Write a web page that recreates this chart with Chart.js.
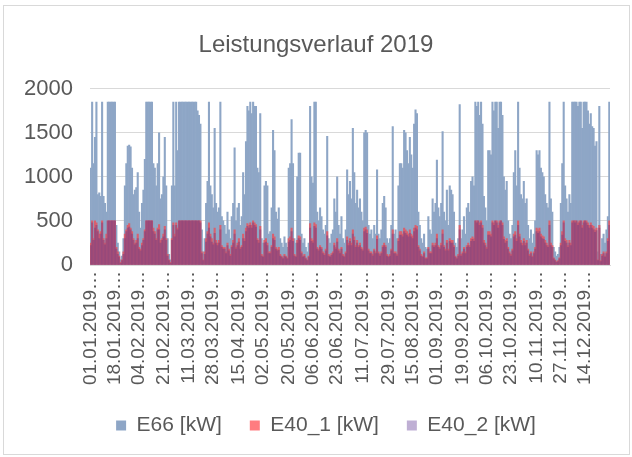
<!DOCTYPE html>
<html>
<head>
<meta charset="utf-8">
<script src="https://cdn.jsdelivr.net/npm/chart.js@4"></script>
<style>
  html, body { margin: 0; padding: 0; background: #fff; }
  #wrap { position: relative; width: 632px; height: 457px; }
  #frame { position: absolute; left: 3px; top: 5px; width: 627px; height: 450px; border: 1px solid #d9d9d9; box-sizing: border-box; }
  canvas { position: absolute; left: 0; top: 0; }
</style>
</head>
<body>
<div id="wrap"><div id="frame"></div><canvas id="chart" width="632" height="457"></canvas></div>
<script>
// Tageswerte 2019 (aus dem Bild geschätzt), kW
const e66 = [
  1100, 1850, 1150, 1450, 1850, 800, 820, 780, 1850, 780,
  700, 600, 1850, 1850, 1850, 1850, 1850, 1850, 450, 250,
  150, 60, 100, 300, 900, 1150, 1350, 1360, 1340, 1100,
  800, 850, 880, 1050, 600, 420, 700, 850, 1200, 1850,
  1850, 1850, 1850, 1850, 1150, 1100, 900, 1150, 1500, 750,
  800, 1000, 1450, 900, 300, 120, 60, 900, 1850, 900,
  1850, 1300, 1850, 1850, 1850, 1850, 1850, 1850, 1850, 1850,
  1850, 1850, 1850, 1850, 1850, 1750, 1700, 1600, 400, 150,
  300, 700, 950, 1850, 900, 800, 650, 1550, 700, 600,
  650, 1850, 550, 500, 450, 350, 600, 400, 300, 550,
  700, 1330, 500, 650, 700, 450, 550, 1050, 800, 1400,
  1800, 1750, 1850, 1720, 1850, 1800, 1800, 1100, 1050, 1720,
  300, 250, 900, 950, 900, 350, 380, 650, 1530, 1300,
  600, 520, 650, 300, 250, 200, 320, 250, 200, 1100,
  1150, 1650, 1150, 300, 250, 1000, 1270, 1270, 350, 250,
  300, 200, 150, 250, 1800, 1000, 930, 1850, 1850, 600,
  500, 650, 550, 400, 350, 450, 1460, 300, 250, 350,
  400, 750, 600, 1000, 450, 350, 550, 300, 250, 400,
  1080, 800, 950, 750, 1550, 1050, 700, 850, 650, 750,
  600, 500, 1500, 1530, 1500, 450, 350, 400, 300, 450,
  350, 1080, 350, 300, 400, 700, 780, 650, 300, 250,
  300, 450, 1570, 350, 400, 300, 900, 1150, 1150, 1100,
  1530, 1500, 1300, 1150, 1450, 1250, 1100, 1600, 1760, 1720,
  600, 450, 300, 250, 350, 200, 180, 550, 400, 350,
  750, 600, 700, 1190, 650, 550, 700, 1515, 600, 500,
  850, 450, 900, 850, 800, 600, 250, 200, 300, 1820,
  300, 400, 550, 350, 650, 700, 600, 950, 1000, 900,
  1850, 1800, 1850, 1700, 1850, 1600, 780, 650, 500, 1300,
  1300, 1250, 1850, 1750, 1850, 1850, 1550, 1850, 1850, 1700,
  1000, 850, 950, 500, 350, 300, 450, 1050, 1300, 900,
  1850, 1100, 800, 750, 950, 700, 750, 450, 300, 400,
  250, 350, 500, 1300, 1250, 1300, 1100, 1050, 1000, 800,
  700, 650, 1850, 750, 600, 200, 150, 100, 120, 200,
  700, 1150, 1850, 900, 750, 600, 800, 700, 1850, 1850,
  1850, 1850, 1800, 1850, 1850, 1550, 1850, 1850, 1850, 1750,
  1600, 1720, 1570, 1550, 1350, 1400, 150, 1800, 120, 300,
  350, 250, 400, 550, 1850
];

const e40_1 = [
  250, 500, 300, 500, 480, 400, 350, 380, 500, 300,
  250, 350, 500, 500, 500, 500, 500, 500, 200, 150,
  100, 30, 60, 150, 350, 400, 450, 470, 420, 380,
  300, 250, 280, 350, 200, 180, 250, 300, 400, 500,
  500, 500, 500, 500, 420, 380, 300, 420, 460, 280,
  300, 350, 440, 300, 120, 60, 30, 300, 480, 350,
  480, 420, 500, 500, 500, 500, 500, 500, 500, 500,
  500, 500, 500, 500, 500, 500, 500, 500, 150, 60,
  150, 300, 380, 480, 350, 300, 250, 420, 280, 250,
  280, 450, 220, 200, 200, 150, 250, 180, 120, 220,
  280, 400, 200, 250, 300, 200, 220, 350, 300, 420,
  470, 450, 480, 450, 500, 480, 460, 300, 280, 440,
  120, 100, 280, 300, 250, 150, 150, 220, 350, 320,
  200, 180, 200, 120, 100, 80, 120, 100, 80, 300,
  320, 420, 300, 120, 100, 280, 330, 320, 150, 100,
  120, 80, 60, 100, 470, 300, 280, 480, 460, 200,
  180, 220, 200, 150, 130, 180, 380, 120, 100, 130,
  150, 250, 200, 300, 180, 150, 200, 120, 100, 150,
  320, 250, 300, 250, 400, 320, 220, 280, 220, 250,
  200, 180, 420, 430, 400, 180, 150, 150, 120, 180,
  150, 330, 150, 120, 150, 220, 250, 220, 120, 100,
  120, 180, 400, 150, 150, 120, 300, 380, 380, 350,
  420, 400, 380, 350, 400, 350, 330, 420, 450, 440,
  220, 180, 120, 100, 150, 80, 80, 200, 150, 150,
  250, 220, 250, 350, 220, 200, 250, 400, 220, 180,
  280, 180, 300, 280, 280, 220, 100, 80, 120, 450,
  120, 150, 200, 150, 220, 250, 220, 300, 320, 300,
  500, 500, 500, 480, 500, 450, 280, 250, 200, 380,
  380, 350, 500, 480, 500, 500, 450, 500, 500, 480,
  320, 280, 300, 200, 150, 120, 180, 350, 380, 300,
  500, 350, 280, 250, 300, 250, 280, 180, 120, 150,
  100, 150, 200, 420, 400, 420, 350, 330, 320, 280,
  250, 220, 500, 250, 220, 80, 60, 40, 50, 80,
  250, 380, 500, 300, 280, 220, 280, 250, 500, 500,
  500, 500, 480, 500, 500, 450, 500, 500, 500, 480,
  450, 480, 450, 440, 400, 420, 60, 450, 50, 120,
  150, 100, 150, 300, 500
];

const e40_2 = [
  220, 480, 280, 420, 450, 380, 300, 350, 480, 280,
  230, 300, 500, 500, 500, 500, 500, 500, 180, 120,
  90, 20, 50, 120, 300, 380, 420, 430, 400, 350,
  280, 230, 250, 300, 180, 160, 220, 280, 380, 500,
  500, 500, 500, 500, 380, 350, 280, 400, 400, 250,
  280, 320, 400, 280, 100, 50, 20, 280, 450, 320,
  450, 400, 500, 500, 500, 500, 500, 500, 500, 500,
  500, 500, 500, 500, 500, 500, 500, 480, 130, 50,
  120, 260, 350, 420, 320, 260, 230, 360, 250, 220,
  250, 400, 200, 180, 180, 130, 220, 160, 100, 200,
  250, 350, 180, 220, 260, 180, 200, 300, 270, 380,
  440, 420, 450, 420, 480, 450, 430, 280, 250, 400,
  100, 90, 250, 260, 220, 130, 130, 200, 300, 280,
  180, 160, 170, 100, 90, 70, 100, 90, 70, 260,
  280, 380, 270, 100, 90, 250, 300, 280, 130, 90,
  100, 70, 50, 90, 420, 270, 250, 440, 420, 180,
  160, 200, 180, 130, 110, 160, 330, 100, 90, 110,
  130, 220, 180, 260, 160, 130, 180, 100, 90, 130,
  280, 220, 270, 220, 350, 280, 200, 250, 200, 220,
  180, 160, 380, 400, 360, 160, 130, 130, 100, 160,
  130, 290, 130, 100, 130, 200, 220, 200, 100, 90,
  100, 160, 350, 130, 130, 100, 270, 340, 340, 320,
  380, 360, 340, 320, 360, 320, 300, 380, 420, 400,
  200, 160, 100, 90, 130, 70, 70, 180, 130, 130,
  220, 200, 220, 300, 200, 180, 220, 350, 200, 160,
  250, 160, 270, 250, 250, 200, 90, 70, 100, 400,
  100, 130, 180, 130, 200, 220, 200, 270, 290, 270,
  500, 480, 500, 450, 480, 420, 250, 220, 180, 340,
  340, 320, 480, 450, 500, 480, 420, 480, 500, 450,
  290, 250, 270, 180, 130, 100, 160, 320, 340, 270,
  450, 320, 250, 220, 270, 220, 250, 160, 100, 130,
  90, 130, 180, 380, 360, 380, 320, 300, 290, 250,
  220, 200, 450, 220, 200, 70, 50, 30, 40, 70,
  220, 340, 480, 270, 250, 200, 250, 220, 480, 500,
  480, 500, 450, 480, 500, 420, 480, 500, 480, 450,
  420, 450, 420, 400, 370, 390, 50, 420, 40, 100,
  130, 90, 130, 270, 450
];

// beschriftete Tage auf der x-Achse
const tickDates = [
  "01.01.2019", "18.01.2019", "04.02.2019", "21.02.2019", "11.03.2019",
  "28.03.2019", "15.04.2019", "02.05.2019", "20.05.2019", "06.06.2019",
  "23.06.2019", "11.07.2019", "29.07.2019", "15.08.2019", "01.09.2019",
  "19.09.2019", "06.10.2019", "23.10.2019", "10.11.2019", "27.11.2019",
  "14.12.2019"
];

const seriesNames = ["E66 [kW]", "E40_1 [kW]", "E40_2 [kW]"];
const barColors = ["#8ea6c6", "#d9606e", "rgba(110,60,130,0.45)"];
const legendColors = ["#8ea6c6", "#ff7c80", "#bfafd4"];

if (e66.length !== 365 || e40_1.length !== 365 || e40_2.length !== 365) {
  throw new Error(`length mismatch ${e66.length} ${e40_1.length} ${e40_2.length}`);
}

const pad = n => String(n).padStart(2, "0");
const days = [];
for (let d = new Date(Date.UTC(2019, 0, 1)); d.getUTCFullYear() === 2019; d.setUTCDate(d.getUTCDate() + 1)) {
  days.push(`${pad(d.getUTCDate())}.${pad(d.getUTCMonth() + 1)}.2019`);
}

const FONT = "'Liberation Sans', Arial, sans-serif";
const TEXT = "#595959";

const series = [e66, e40_1, e40_2];
const datasets = series.map((data, i) => ({
  label: seriesNames[i],
  data,
  backgroundColor: barColors[i],
  borderWidth: 0,
  grouped: false,
  barPercentage: 1,
  categoryPercentage: 1,
  order: 3 - i
}));

// Titel und Legende wie im Original leicht nach rechts versetzen
const nudge = {
  id: "nudge",
  afterLayout(chart) {
    chart.titleBlock.left += 11;
    chart.titleBlock.right += 11;
    chart.legend.left += 21;
    chart.legend.right += 21;
  }
};

new Chart(document.getElementById("chart"), {
  type: "bar",
  data: { labels: days, datasets },
  plugins: [nudge],
  options: {
    responsive: false,
    animation: false,
    layout: { padding: { left: 0, right: 22, top: 0, bottom: 11 } },
    plugins: {
      tooltip: { enabled: false },
      title: {
        display: true,
        text: "Leistungsverlauf 2019",
        color: TEXT,
        font: { family: FONT, size: 24, weight: "normal" },
        padding: { top: 31, bottom: 29 }
      },
      legend: {
        position: "bottom",
        labels: {
          color: TEXT,
          font: { family: FONT, size: 21 },
          boxWidth: 10,
          boxHeight: 10,
          padding: 28,
          generateLabels: chart => chart.data.datasets.map((ds, i) => ({
            text: ds.label,
            fillStyle: legendColors[i],
            strokeStyle: legendColors[i],
            lineWidth: 0,
            datasetIndex: i,
            fontColor: TEXT
          }))
        }
      }
    },
    scales: {
      x: {
        afterFit: s => { s.height = 122; },
        grid: { display: false, drawTicks: false },
        border: { display: true, color: "#d9d9d9" },
        ticks: {
          autoSkip: false,
          minRotation: 90,
          maxRotation: 90,
          padding: 6,
          color: TEXT,
          font: { family: FONT, size: 19 },
          callback: (v, i) => tickDates.includes(days[i]) ? days[i] + "\u2026" : null
        }
      },
      y: {
        min: 0,
        max: 2000,
        afterFit: s => { s.width = 90; },
        grid: { color: "#d9d9d9", drawTicks: false },
        border: { display: false },
        ticks: {
          stepSize: 500,
          padding: 17,
          color: TEXT,
          font: { family: FONT, size: 22 },
          callback: v => String(v)
        }
      }
    }
  }
});
</script>
</body>
</html>
